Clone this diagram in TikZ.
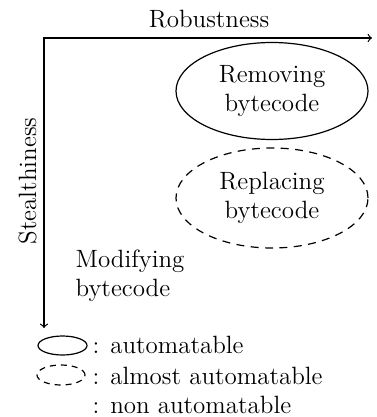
\documentclass[tikz,border=0pt]{standalone}
\usepackage{tikz}
\usetikzlibrary{shapes}
\usetikzlibrary{positioning}
\usetikzlibrary{shapes.geometric}

\begin{document}
\begin{tikzpicture}[
	x=0.5pt, y=-0.5pt,
	line width=0.6pt,
	font=\fontsize{12.5}{14.5}\selectfont
]
\tikzset{
    bignode/.style = {ellipse, draw=black, align=center, minimum width=96pt, minimum height=48.5pt, inner sep=0pt},
		almost/.style = {dash pattern=on 4pt off 3.2pt},
		keynode/.style = {ellipse, draw=black, minimum width=24.5pt, minimum height=9.5pt, inner sep=0pt},
		keytext/.style = {anchor=base west, inner sep=0pt}
}
\useasboundingbox (0,0) rectangle (376,417);
\coordinate (O) at (44,38);
\coordinate (X) at (372,38);
\coordinate (Y) at (44,328);
\draw[<->] (Y) |- (X);
\node[anchor=base, inner sep=0pt] (rob) at (209,28) {Robustness};
\node[anchor=base, inner sep=0pt, rotate=90] (stealth) at (36,181) {Stealthiness};

\node[bignode] (remove) at (272,91) {Removing\\bytecode};
\node[bignode, almost, minimum height=50pt] (replace) at (272,198) {Replacing\\bytecode};
\node[align=left, anchor=west, inner sep=0pt] (modify) at (75,276) {Modifying\\bytecode};

% legend
\node[keynode] (k1) at (62.5,345.5) {};
\node[keynode, almost, dash pattern=on 3pt off 2.5pt, minimum width=24pt, minimum height=10pt] (k2) at (61,375) {};
\node[keytext] (t1) at (92,353) {: automatable};
\node[keytext] (t2) at (92,384) {: almost automatable};
\node[keytext] (t3) at (92,413) {: non automatable};
\end{tikzpicture}
\end{document}
